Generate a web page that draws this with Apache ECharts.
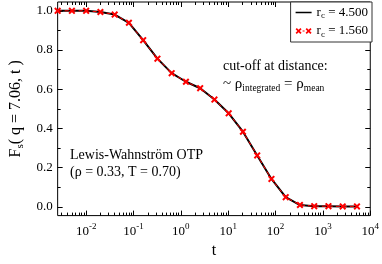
<!DOCTYPE html>
<html><head><meta charset="utf-8">
<script src="https://cdn.jsdelivr.net/npm/echarts@6/dist/echarts.min.js"></script>
<style>html,body{margin:0;padding:0;background:#fff}#c{width:382px;height:264px}</style>
</head><body><div id="c"></div>
<script>
const tValues = [0.0025,0.005,0.01,0.02,0.04,0.08,0.16,0.32,0.64,1.28,2.56,5.12,10.24,20.48,40.96,81.92,163.84,327.68,655.36,1310.72,2621.44,5242.88];
const fsRc4500 = [1.000,1.000,1.000,0.994,0.981,0.939,0.850,0.756,0.682,0.638,0.605,0.547,0.477,0.383,0.262,0.142,0.049,0.009,0.003,0.003,0.002,0.002];
const fsRc1560 = [1.000,1.000,1.000,0.994,0.981,0.939,0.850,0.756,0.682,0.638,0.605,0.547,0.477,0.383,0.262,0.142,0.049,0.009,0.003,0.003,0.002,0.002];
const xMajorTicks = [0.01,0.1,1,10,100,1000,10000];
const xMinorTicks = (function(){const a=[];for(let e=-3;e<4;e++){for(let m=2;m<10;m++){const v=m*Math.pow(10,e);if(v>=0.0025&&v<=10000)a.push(+v.toPrecision(3));}}return a;})();
const yMajorTicks = [0,0.2,0.4,0.6,0.8,1.0];
const yMinorTicks = [0.1,0.3,0.5,0.7,0.9];
const legendNames = ['r_c = 4.500','r_c = 1.560'];

const SERIF = '"Liberation Serif","DejaVu Serif",serif';
function xPath(ox,oy,s){const k=s/10;const p=[[0,2],[2,0],[5,3],[8,0],[10,2],[7,5],[10,8],[8,10],[5,7],[2,10],[0,8],[3,5]];
  return 'M'+p.map(q=>(ox+q[0]*k).toFixed(2)+','+(oy+q[1]*k).toFixed(2)).join('L')+'Z';}
const X = 'path://'+xPath(0,0,10);
const iconLine = 'path://M0,0L0.01,0L0.01,0.01Z M0,3.3L16,3.3L16,4.7L0,4.7Z M15.99,8L16,8L16,7.99Z';
const iconDash = 'path://'+xPath(0,1,6)+' M7,3.4L9,3.4L9,4.6L7,4.6Z '+xPath(10,1,6)+' M0,0L0.01,0L0.01,0.01Z M15.99,8L16,8L16,7.99Z';
const chart = echarts.init(document.getElementById('c'));
function expo(v){const e=Math.round(Math.log10(v));return '{b|10}{s|'+e+'}';}
const xLblRich = {b:{fontFamily:SERIF,fontSize:13,color:'#000'},s:{fontFamily:SERIF,fontSize:9,color:'#000',padding:[0,0,9,0]}};
function xAx(pos, ticks, len, labels){
  return {type:'log',min:0.0025,max:10000,position:pos,
    axisLine:{show:false,onZero:false},splitLine:{show:false},
    axisTick:{show:true,inside:true,length:len,customValues:ticks,lineStyle:{color:'#000',width:1}},
    axisLabel:{show:labels,customValues:ticks,formatter:expo,rich:xLblRich,margin:7,color:'#000'}};
}
function yAx(pos, ticks, len, labels){
  return {type:'value',min:-0.045,max:1.045,position:pos,
    axisLine:{show:false,onZero:false},splitLine:{show:false},
    axisTick:{show:true,inside:true,length:len,customValues:ticks,lineStyle:{color:'#000',width:1}},
    axisLabel:{show:labels,customValues:ticks,formatter:v=>v.toFixed(1),fontFamily:SERIF,fontSize:13,color:'#000',margin:5}};
}
const xa0 = xAx('bottom',xMajorTicks,5,true);
xa0.name='t'; xa0.nameLocation='middle'; xa0.nameGap=19;
xa0.nameTextStyle={fontFamily:SERIF,fontSize:16,color:'#000'};
const ya0 = yAx('left',yMajorTicks,5,true);
ya0.name='{n|F}{sub|s}{n|( q = 7.06, t )}'; ya0.nameLocation='middle'; ya0.nameGap=22; ya0.nameRotate=90;
ya0.nameTextStyle={rich:{n:{fontFamily:SERIF,fontSize:16,color:'#000'},sub:{fontFamily:SERIF,fontSize:11,color:'#000',padding:[8,0,0,0]}}};

function legendFmt(name){const p=name.split(' = ');return '{r|r}{c|c}{r| = '+p[1]+'}';}

chart.setOption({
  animation:false,
  grid:{left:41,right:10,top:2,bottom:32,show:true,borderColor:'#000',borderWidth:1,backgroundColor:'transparent'},
  xAxis:[xa0, xAx('bottom',xMinorTicks,3,false), xAx('top',xMajorTicks,5,false), xAx('top',xMinorTicks,3,false)],
  yAxis:[ya0, yAx('left',yMinorTicks,3,false), yAx('right',yMajorTicks,5,false), yAx('right',yMinorTicks,3,false)],
  legend:{orient:'vertical',right:10,top:2,itemWidth:16,itemHeight:8,itemGap:4,padding:[4,4,3,5],
    backgroundColor:'#fff',borderColor:'#333',borderWidth:1,borderRadius:0,
    data:[{name:legendNames[0],icon:iconLine,itemStyle:{color:'#000'}},{name:legendNames[1],icon:iconDash,itemStyle:{color:'#ff0000'}}],
    formatter:legendFmt,
    textStyle:{rich:{r:{fontFamily:SERIF,fontSize:13,color:'#000'},c:{fontFamily:SERIF,fontSize:9,color:'#000',padding:[7,0,0,0]}}}},
  series:[
    {name:legendNames[0],type:'line',data:tValues.map((t,i)=>[t,fsRc4500[i]]),showSymbol:false,symbol:'none',
      lineStyle:{color:'#000',width:2},itemStyle:{color:'#000'},z:2},
    {name:legendNames[1],type:'line',data:tValues.map((t,i)=>[t,fsRc1560[i]]),symbol:X,symbolSize:7,
      lineStyle:{color:'#ff0000',width:1,type:[4,3]},itemStyle:{color:'#ff0000'},z:3}
  ],
  graphic:[
    {type:'text',left:223,top:59,style:{text:'cut-off at distance:',font:'14px '+SERIF,fill:'#000'}},
    {type:'text',left:223,top:77,style:{text:'{n|~ ρ}{s|integrated}{n| = ρ}{s|mean}',
      rich:{n:{fontFamily:SERIF,fontSize:15,fill:'#000'},s:{fontFamily:SERIF,fontSize:9.5,fill:'#000',padding:[8,0,0,0]}}}},
    {type:'text',left:70,top:148,style:{text:'Lewis-Wahnström OTP',font:'14px '+SERIF,fill:'#000'}},
    {type:'text',left:70,top:165,style:{text:'(ρ = 0.33, T = 0.70)',font:'14px '+SERIF,fill:'#000'}}
  ]
});
</script></body></html>
